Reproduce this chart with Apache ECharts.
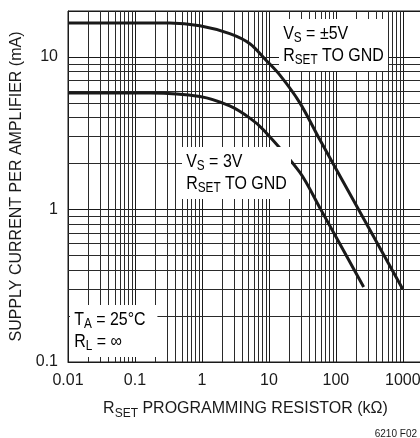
<!DOCTYPE html>
<html>
<head>
<meta charset="utf-8">
<script src="https://cdn.jsdelivr.net/npm/echarts@6.0.0/dist/echarts.min.js"></script>
<style>
  html, body { margin: 0; padding: 0; background: #fff; }
  #chart { width: 420px; height: 438px; }
</style>
</head>
<body>
<div id="chart"></div>
<script>
// supply current vs. RSET
const rSet5V = [0.01, 0.33, 0.93, 2.6, 5.2, 8.7, 14.6, 29, 58, 123, 1000]
const iSupply5V = [16.7, 16.7, 16.0, 14.2, 12.2, 9.7, 7.6, 5.0, 2.85, 1.57, 0.30]

const rSet3V = [0.01, 0.17, 0.93, 2.6, 5.2, 8.4, 29, 58, 260]
const iSupply3V = [5.8, 5.8, 5.5, 4.77, 3.97, 3.31, 1.75, 1.02, 0.31]

// axis ranges and grid decades
const xMin = 0.01
const xMax = 2000
const yMin = 0.1
const yMax = 20
const xDecades = [0.01, 0.1, 1, 10, 100, 1000]
const yDecades = [0.1, 1, 10]
const minorSteps = [2, 3, 4, 5, 6, 7, 8, 9]

const font = "'Liberation Sans', Arial, sans-serif"
const ink = '#1a1a1a'

const isDecade = v => {
  const l = Math.log10(v)
  return Math.abs(l - Math.round(l)) < 1e-6
}
const fmt = v => (isDecade(v) ? String(+v.toPrecision(2)) : '')

// minor grid lines (2..9 in every decade)
const minorLines = []
xDecades.forEach(d => {
  minorSteps.forEach(m => {
    const v = +(d * m).toPrecision(3)
    if (v < xMax) minorLines.push({ xAxis: v })
  })
})
yDecades.forEach(d => {
  minorSteps.forEach(m => {
    const v = +(d * m).toPrecision(3)
    if (v < yMax) minorLines.push({ yAxis: v })
  })
})

const toPairs = (xs, ys) => xs.map((x, i) => [x, ys[i]])

const rich = {
  v: { fontSize: 16, lineHeight: 22, fontFamily: font, color: ink },
  s: { fontSize: 12, lineHeight: 12, fontFamily: font, color: ink, verticalAlign: 'bottom' }
}
// taller, condensed look for the in-plot notes
const noteRich = {
  v: { fontSize: 19, lineHeight: 22, fontFamily: font, color: ink },
  s: { fontSize: 14, lineHeight: 13, fontFamily: font, color: ink, verticalAlign: 'bottom' }
}

function noteBox(x, y, text, padRight) {
  return {
    type: 'text',
    x: x,
    y: y,
    scaleX: 0.84,
    z: 100,
    silent: true,
    style: {
      text: text,
      rich: noteRich,
      backgroundColor: '#fff',
      padding: [4, padRight || 5, 4, 5]
    }
  }
}

const chart = echarts.init(document.getElementById('chart'))

const option = {
  animation: false,
  backgroundColor: '#fff',
  grid: {
    left: 68,
    top: 11,
    right: -3,
    bottom: 76,
    outerBoundsMode: 'none',
    containLabel: false,
    show: true,
    borderColor: ink,
    borderWidth: 1,
    backgroundColor: 'transparent'
  },
  xAxis: {
    type: 'log',
    logBase: 10,
    min: xMin,
    max: xMax,
    name: '{v|R}{s|SET}{v| PROGRAMMING RESISTOR (kΩ)}',
    nameLocation: 'middle',
    nameGap: 36,
    nameTextStyle: { rich: rich },
    axisLine: { show: true, lineStyle: { color: ink, width: 1 } },
    axisTick: { show: false },
    axisLabel: {
      formatter: fmt,
      fontSize: 16,
      fontFamily: font,
      color: ink,
      margin: 11
    },
    splitLine: { show: true, lineStyle: { color: ink, width: 1 } },
    minorTick: { show: false },
    minorSplitLine: { show: false }
  },
  yAxis: {
    type: 'log',
    logBase: 10,
    min: yMin,
    max: yMax,
    name: 'SUPPLY CURRENT PER AMPLIFIER (mA)',
    nameLocation: 'middle',
    nameRotate: 90,
    nameGap: 35,
    nameTextStyle: { fontSize: 16, fontFamily: font, color: ink },
    axisLine: { show: true, lineStyle: { color: ink, width: 1 } },
    axisTick: { show: false },
    axisLabel: {
      formatter: fmt,
      fontSize: 16,
      fontFamily: font,
      color: ink,
      margin: 10
    },
    splitLine: { show: true, lineStyle: { color: ink, width: 1 } }
  },
  graphic: [
    noteBox(279, 19, '{v|V}{s|S}{v| = ±5V}\n{v|R}{s|SET}{v| TO GND}'),
    noteBox(182, 147, '{v|V}{s|S}{v| = 3V}\n{v|R}{s|SET}{v| TO GND}'),
    noteBox(70, 305, '{v|T}{s|A}{v| = 25°C}\n{v|R}{s|L}{v| = ∞}', 14),
    {
      type: 'text',
      right: 3,
      top: 429,
      silent: true,
      style: { text: '6210 F02', fontSize: 10, fontFamily: font, fill: ink }
    }
  ],
  series: [
    {
      name: 'grid',
      type: 'line',
      data: [],
      z: 1,
      silent: true,
      markLine: {
        silent: true,
        symbol: 'none',
        animation: false,
        label: { show: false },
        lineStyle: { color: '#2a2a2a', width: 1, type: 'solid' },
        emphasis: { disabled: true },
        data: minorLines
      }
    },
    {
      name: 'VS = ±5V',
      type: 'line',
      data: toPairs(rSet5V, iSupply5V),
      smooth: 0.3,
      symbol: 'none',
      z: 5,
      lineStyle: { color: ink, width: 3 }
    },
    {
      name: 'VS = 3V',
      type: 'line',
      data: toPairs(rSet3V, iSupply3V),
      smooth: 0.3,
      symbol: 'none',
      z: 5,
      lineStyle: { color: ink, width: 3 }
    }
  ]
}

chart.setOption(option)
</script>
</body>
</html>
